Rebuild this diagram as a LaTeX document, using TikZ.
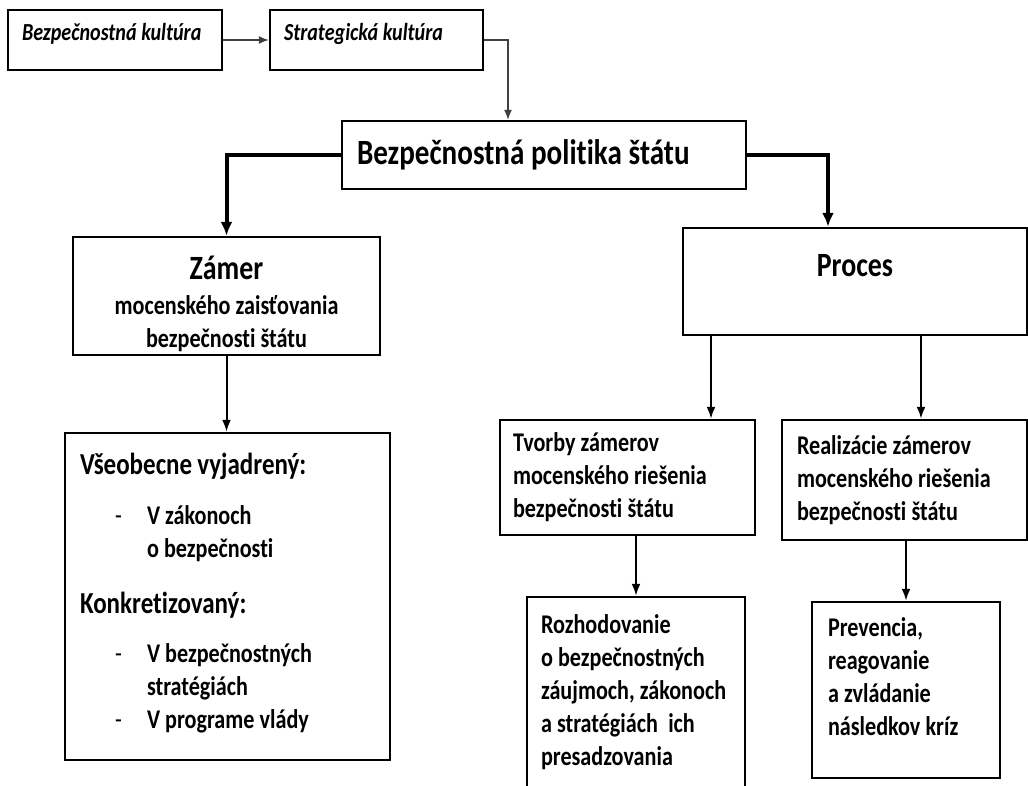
\documentclass[tikz,border=0pt]{standalone}
\usepackage{fontspec}
\setmainfont{Carlito}[FakeStretch=0.82, Ligatures=NoCommon]
\usetikzlibrary{arrows.meta}
\newcommand{\tightspace}{\spaceskip=0.19em\relax}

\begin{document}
\begin{tikzpicture}[x=1pt, y=-1pt,
        box/.style = {draw, line width=2.5pt, inner xsep=14pt, inner ysep=0pt, align=left, font=\bfseries\fontsize{27}{33}\selectfont,
          execute at begin node=\tightspace},
        thin arrow/.style = {draw=black!75, line width=1.2pt, -{Latex[length=10pt,width=8pt]}},
        arrow/.style = {line width=2pt, -{Latex[length=12pt,width=9pt]}},
        thick arrow/.style = {line width=4pt, -{Latex[length=14pt,width=12pt]}}]
        \useasboundingbox (0,0) rectangle (1028,785);
        \clip (0,0) rectangle (1028,785);
        % culture boxes
        \node [box, minimum width=214pt, minimum height=60pt, text width=186pt, text depth=16pt, font=\bfseries\itshape\fontsize{24.5}{28}\selectfont] (bkult) at (115,40) {Bezpečnostná kultúra};
        \node [box, minimum width=213pt, minimum height=60pt, text width=185pt, text depth=16pt, font=\bfseries\itshape\fontsize{24.5}{28}\selectfont] (skult) at (376.5,40) {Strategická kultúra};
        \node [box, minimum width=404pt, minimum height=68pt, text width=374pt, inner xsep=15pt, font=\bfseries\fontsize{35.5}{40}\selectfont] (politika) at (544,155) {Bezpečnostná politika štátu};
        % second level
        \node [box, align=center, minimum width=307pt, minimum height=118pt, text width=279pt, text height=40pt] (zamer) at (226.5,296) {{\fontsize{34}{33}\selectfont Zámer}\\[2pt] mocenského zaisťovania\\ bezpečnosti štátu};
        \node [box, align=center, minimum width=344pt, minimum height=107pt, text width=316pt, text depth=33pt, font=\bfseries\fontsize{34}{38}\selectfont] (proces) at (855,281.5) {Proces};
        % third level
        \node [box, minimum width=325pt, minimum height=327pt, text width=295pt, inner xsep=15pt, text height=14pt] (vseob) at (227.5,596.5)
          {{\fontsize{30.5}{33}\selectfont Všeobecne vyjadrený:}\\[17pt]
           \hspace*{35pt}\makebox[32pt][l]{\mdseries -}V zákonoch\\
           \hspace*{67pt}o bezpečnosti\\[23pt]
           {\fontsize{30.5}{33}\selectfont Konkretizovaný:}\\[16pt]
           \hspace*{35pt}\makebox[32pt][l]{\mdseries -}V bezpečnostných\\
           \hspace*{67pt}stratégiách\\
           \hspace*{35pt}\makebox[32pt][l]{\mdseries -}V programe vlády};
        \node [box, minimum width=255pt, minimum height=115pt, text width=229pt, inner xsep=13pt] (tvorby) at (627.5,477.5) {Tvorby zámerov\\ mocenského riešenia\\ bezpečnosti štátu};
        \node [box, minimum width=245pt, minimum height=120pt, text width=215pt, inner xsep=15pt] (realiz) at (904.5,480) {Realizácie zámerov\\ mocenského riešenia\\ bezpečnosti štátu};
        % bottom
        \node [box, minimum width=218pt, minimum height=190pt, text width=190pt] (rozh) at (636,692) {Rozhodovanie\\ o bezpečnostných\\ záujmoch, zákonoch\\ a stratégiách~ ich\\ presadzovania};
        \node [box, minimum width=188pt, minimum height=176pt, text width=156pt, inner xsep=16pt] (prev) at (906,690) {Prevencia,\\ reagovanie\\ a zvládanie\\ následkov kríz\\[-16pt] \strut};
        % connectors
        \coordinate (polin) at ([xshift=-36pt]politika.north);
        \coordinate (procin) at ([xshift=-27pt]proces.north);
        \coordinate (tvin) at ([xshift=83.5pt]tvorby.north);
        \coordinate (rein) at ([xshift=16.5pt]realiz.north);
        \draw [thin arrow] (bkult) -- (skult);
        \draw [thin arrow] (skult.east) -| (polin);
        \draw [thick arrow] (politika.west) -| (zamer.north);
        \draw [thick arrow] (politika.east) -| (procin);
        \draw [arrow] (zamer.south) -- (zamer.south |- vseob.north);
        \draw [arrow] (tvin |- proces.south) -- (tvin);
        \draw [arrow] (rein |- proces.south) -- (rein);
        \draw [arrow] (rozh.north |- tvorby.south) -- (rozh.north);
        \draw [arrow] (prev.north |- realiz.south) -- (prev.north);
\end{tikzpicture}
\end{document}
